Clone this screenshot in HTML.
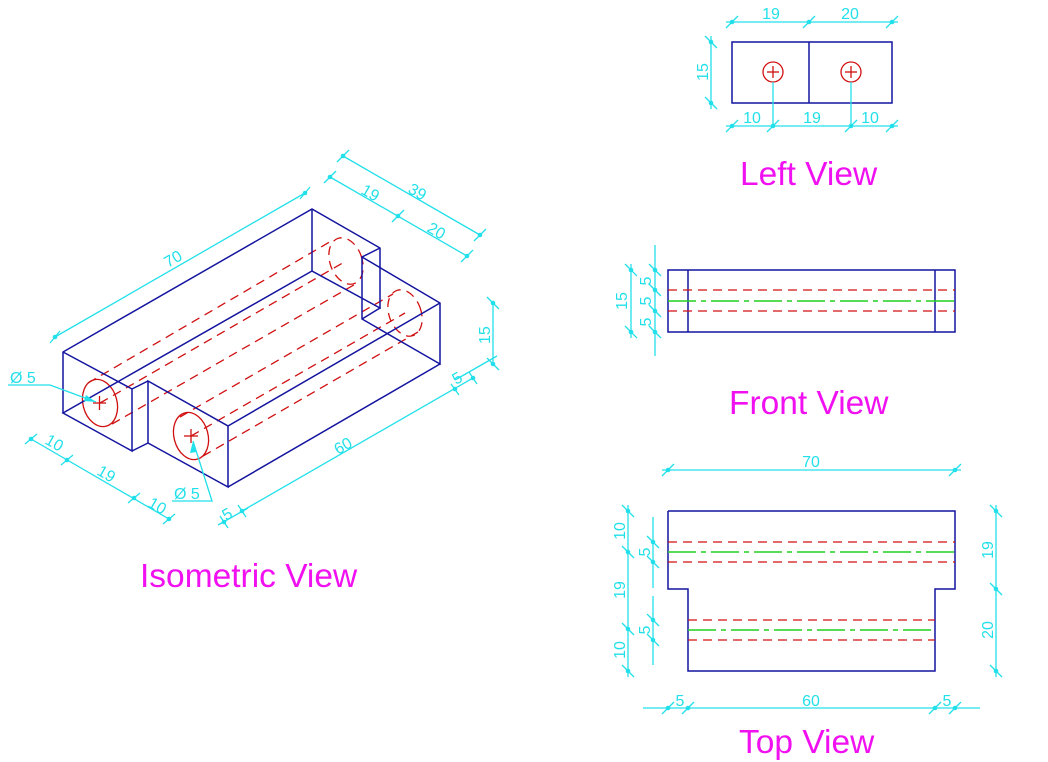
<!DOCTYPE html>
<html><head><meta charset="utf-8"><style>
html,body{margin:0;padding:0;background:#fff;}
svg{display:block;}
.b{stroke:#1414a0;stroke-width:1.5;fill:none;}
.c{stroke:#22e0ea;stroke-width:1.3;fill:none;}
.r{stroke:#d01010;stroke-width:1.3;fill:none;stroke-dasharray:9 6;}
.rs{stroke:#d01010;stroke-width:1.3;fill:none;}
.g{stroke:#20d020;stroke-width:1.4;fill:none;stroke-dasharray:28 5 5 5;}
.d{fill:#22e0ea;}
.t{fill:#22e0ea;font-family:"Liberation Sans",sans-serif;font-size:16px;}
.m{fill:#f010f0;font-family:"Liberation Sans",sans-serif;font-size:33.5px;}
</style></head><body>
<svg width="1048" height="762" viewBox="0 0 1048 762" xmlns="http://www.w3.org/2000/svg">
<!-- ============ ISOMETRIC ============ -->
<g class="r">
<line x1="88" y1="383" x2="333" y2="240"/>
<line x1="112" y1="424" x2="359" y2="282"/>
<line x1="100" y1="403" x2="346" y2="261"/>
<line x1="180" y1="417" x2="393" y2="294"/>
<line x1="203" y1="456" x2="418" y2="332"/>
<line x1="191" y1="436" x2="405" y2="313"/>
<ellipse cx="346" cy="261" rx="16" ry="24" transform="rotate(-20 346 261)"/>
<ellipse cx="405" cy="313" rx="16" ry="24" transform="rotate(-20 405 313)"/>
</g>
<g class="rs">
<ellipse cx="100" cy="403" rx="17" ry="24" transform="rotate(-15 100 403)"/>
<ellipse cx="191" cy="436" rx="17" ry="24" transform="rotate(-15 191 436)"/>
<line x1="93" y1="403" x2="106" y2="403"/><line x1="99.5" y1="396" x2="99.5" y2="410"/>
<line x1="184" y1="436" x2="198" y2="436"/><line x1="191" y1="429" x2="191" y2="443"/>
</g>
<g class="b">
<polyline points="63,413 63,352 312,209 380,248 380,308 312,271 312,209"/>
<polyline points="63,352 132,389 132,451 63,413 312,271"/>
<line x1="132" y1="389" x2="148" y2="381"/>
<line x1="132" y1="451" x2="148" y2="443"/>
<polyline points="148,443 148,381 228,426 228,487 148,443"/>
<line x1="228" y1="426" x2="440" y2="303"/>
<line x1="228" y1="487" x2="440" y2="364"/>
<polyline points="362,257 440,303 440,364 362,319 362,257 380,248"/>
<line x1="362" y1="319" x2="380" y2="308"/>
</g>
<g class="c">
<line x1="55" y1="337" x2="305" y2="193"/>
<line x1="50" y1="343" x2="60" y2="331"/><line x1="300" y1="199" x2="310" y2="187"/>
<line x1="343" y1="156" x2="480" y2="235"/>
<line x1="330" y1="177" x2="467" y2="256"/>
<line x1="493" y1="303" x2="493" y2="364"/>
<line x1="497" y1="356" x2="455" y2="380"/>
<line x1="473" y1="378" x2="242" y2="511"/>
<line x1="218" y1="525" x2="248" y2="508"/>
<line x1="31" y1="439" x2="169" y2="519"/>
<polyline points="8,385 50,385 96,402"/>
<polyline points="172,501 212,501 193,441"/>
</g>
<g class="d">
<circle cx="55" cy="337" r="2.3"/><circle cx="305" cy="193" r="2.3"/>
<circle cx="343" cy="156" r="2.3"/><circle cx="480" cy="235" r="2.3"/>
<circle cx="330" cy="177" r="2.3"/><circle cx="398" cy="216" r="2.3"/><circle cx="467" cy="256" r="2.3"/>
<circle cx="493" cy="303" r="2.3"/><circle cx="493" cy="364" r="2.3"/>
<circle cx="455" cy="389" r="2.3"/><circle cx="473" cy="378" r="2.3"/>
<circle cx="242" cy="511" r="2.3"/><circle cx="224" cy="522" r="2.3"/>
<circle cx="31" cy="439" r="2.3"/><circle cx="67" cy="460" r="2.3"/><circle cx="134" cy="498" r="2.3"/><circle cx="169" cy="519" r="2.3"/>
<polygon points="96,402 86,395 84,401"/>
<polygon points="193,441 190,453 196,452"/>
</g>
<g class="c">
<line x1="337" y1="162" x2="349" y2="150"/><line x1="474" y1="241" x2="486" y2="229"/>
<line x1="324" y1="183" x2="336" y2="171"/><line x1="392" y1="222" x2="404" y2="210"/><line x1="461" y1="262" x2="473" y2="250"/>
<line x1="487" y1="297" x2="499" y2="309"/><line x1="487" y1="358" x2="499" y2="370"/>
<line x1="451" y1="384" x2="459" y2="395"/><line x1="469" y1="372" x2="477" y2="384"/>
<line x1="238" y1="505" x2="246" y2="517"/><line x1="220" y1="516" x2="228" y2="528"/>
<line x1="25" y1="444" x2="37" y2="434"/><line x1="61" y1="465" x2="73" y2="455"/><line x1="128" y1="503" x2="140" y2="493"/><line x1="163" y1="524" x2="175" y2="514"/>
</g>
<g class="t">
<text transform="translate(168,268) rotate(-30)">70</text>
<text transform="translate(360,193) rotate(30)">19</text>
<text transform="translate(407,192) rotate(30)">39</text>
<text transform="translate(426,231) rotate(30)">20</text>
<text transform="translate(490,344) rotate(-90)">15</text>
<text transform="translate(456,385) rotate(-30)">5</text>
<text transform="translate(338,455) rotate(-30)">60</text>
<text transform="translate(226,521) rotate(-30)">5</text>
<text transform="translate(44,443) rotate(30)">10</text>
<text transform="translate(96,474) rotate(30)">19</text>
<text transform="translate(147,506) rotate(30)">10</text>
<text x="10" y="383">Ø 5</text>
<text x="174" y="499">Ø 5</text>
</g>
<text class="m" x="140" y="587">Isometric View</text>

<!-- ============ LEFT VIEW ============ -->
<g class="b"><rect x="732" y="42" width="160" height="61"/><line x1="809" y1="42" x2="809" y2="103"/></g>
<g class="rs"><circle cx="773" cy="72" r="10"/><circle cx="851" cy="72" r="10"/>
<line x1="767" y1="72" x2="779" y2="72"/><line x1="773" y1="66" x2="773" y2="78"/>
<line x1="845" y1="72" x2="857" y2="72"/><line x1="851" y1="66" x2="851" y2="78"/></g>
<g class="c">
<line x1="726" y1="22" x2="898" y2="22"/>
<line x1="711" y1="36" x2="711" y2="109"/>
<line x1="726" y1="126" x2="898" y2="126"/>
<line x1="773" y1="82" x2="773" y2="126"/><line x1="851" y1="82" x2="851" y2="126"/>
<line x1="726" y1="28" x2="738" y2="16"/><line x1="803" y1="28" x2="815" y2="16"/><line x1="886" y1="28" x2="898" y2="16"/>
<line x1="705" y1="36" x2="717" y2="48"/><line x1="705" y1="97" x2="717" y2="109"/>
<line x1="726" y1="132" x2="738" y2="120"/><line x1="767" y1="132" x2="779" y2="120"/><line x1="845" y1="132" x2="857" y2="120"/><line x1="886" y1="132" x2="898" y2="120"/>
</g>
<g class="d">
<circle cx="732" cy="22" r="2.3"/><circle cx="809" cy="22" r="2.3"/><circle cx="892" cy="22" r="2.3"/>
<circle cx="711" cy="42" r="2.3"/><circle cx="711" cy="103" r="2.3"/>
<circle cx="732" cy="126" r="2.3"/><circle cx="773" cy="126" r="2.3"/><circle cx="851" cy="126" r="2.3"/><circle cx="892" cy="126" r="2.3"/>
</g>
<g class="t" text-anchor="middle">
<text x="771" y="19">19</text><text x="850" y="19">20</text>
<text transform="translate(708,72) rotate(-90)">15</text>
<text x="752" y="123">10</text><text x="812" y="123">19</text><text x="870" y="123">10</text>
</g>
<text class="m" x="740" y="185">Left View</text>

<!-- ============ FRONT VIEW ============ -->
<g class="b"><rect x="668" y="270" width="287" height="62"/><line x1="688" y1="270" x2="688" y2="332"/><line x1="935" y1="270" x2="935" y2="332"/></g>
<line class="r" x1="668" y1="290" x2="955" y2="290"/>
<line class="r" x1="668" y1="311" x2="955" y2="311"/>
<line class="g" x1="668" y1="301" x2="955" y2="301"/>
<g class="c">
<line x1="631" y1="264" x2="631" y2="338"/>
<line x1="655" y1="245" x2="655" y2="356"/>
<line x1="625" y1="264" x2="637" y2="276"/><line x1="625" y1="326" x2="637" y2="338"/>
<line x1="649" y1="264" x2="661" y2="276"/><line x1="649" y1="284" x2="661" y2="296"/><line x1="649" y1="305" x2="661" y2="317"/><line x1="649" y1="326" x2="661" y2="338"/>
</g>
<g class="d">
<circle cx="631" cy="270" r="2.3"/><circle cx="631" cy="332" r="2.3"/>
<circle cx="655" cy="270" r="2.3"/><circle cx="655" cy="290" r="2.3"/><circle cx="655" cy="311" r="2.3"/><circle cx="655" cy="332" r="2.3"/>
</g>
<g class="t" text-anchor="middle">
<text transform="translate(627,301) rotate(-90)">15</text>
<text transform="translate(651,281) rotate(-90)">5</text>
<text transform="translate(651,301) rotate(-90)">5</text>
<text transform="translate(651,322) rotate(-90)">5</text>
</g>
<text class="m" x="729" y="414">Front View</text>

<!-- ============ TOP VIEW ============ -->
<polyline class="b" points="668,511 955,511 955,589 935,589 935,671 688,671 688,589 668,589 668,511"/>
<line class="r" x1="668" y1="542" x2="955" y2="542"/>
<line class="r" x1="668" y1="562" x2="955" y2="562"/>
<line class="g" x1="668" y1="552" x2="955" y2="552"/>
<line class="r" x1="688" y1="620" x2="935" y2="620"/>
<line class="r" x1="688" y1="640" x2="935" y2="640"/>
<line class="g" x1="688" y1="630" x2="935" y2="630"/>
<g class="c">
<line x1="662" y1="470" x2="961" y2="470"/>
<line x1="628" y1="505" x2="628" y2="677"/>
<line x1="653" y1="517" x2="653" y2="588"/>
<line x1="653" y1="596" x2="653" y2="665"/>
<line x1="996" y1="505" x2="996" y2="677"/>
<line x1="643" y1="708" x2="980" y2="708"/>
<line x1="662" y1="476" x2="674" y2="464"/><line x1="949" y1="476" x2="961" y2="464"/>
<line x1="622" y1="505" x2="634" y2="517"/><line x1="622" y1="546" x2="634" y2="558"/><line x1="622" y1="623" x2="634" y2="635"/><line x1="622" y1="665" x2="634" y2="677"/>
<line x1="647" y1="536" x2="659" y2="548"/><line x1="647" y1="556" x2="659" y2="568"/><line x1="647" y1="614" x2="659" y2="626"/><line x1="647" y1="634" x2="659" y2="646"/>
<line x1="990" y1="505" x2="1002" y2="517"/><line x1="990" y1="583" x2="1002" y2="595"/><line x1="990" y1="665" x2="1002" y2="677"/>
<line x1="662" y1="714" x2="674" y2="702"/><line x1="682" y1="714" x2="694" y2="702"/><line x1="929" y1="714" x2="941" y2="702"/><line x1="949" y1="714" x2="961" y2="702"/>
</g>
<g class="d">
<circle cx="668" cy="470" r="2.3"/><circle cx="955" cy="470" r="2.3"/>
<circle cx="628" cy="511" r="2.3"/><circle cx="628" cy="552" r="2.3"/><circle cx="628" cy="629" r="2.3"/><circle cx="628" cy="671" r="2.3"/>
<circle cx="653" cy="542" r="2.3"/><circle cx="653" cy="562" r="2.3"/><circle cx="653" cy="620" r="2.3"/><circle cx="653" cy="640" r="2.3"/>
<circle cx="996" cy="511" r="2.3"/><circle cx="996" cy="589" r="2.3"/><circle cx="996" cy="671" r="2.3"/>
<circle cx="668" cy="708" r="2.3"/><circle cx="688" cy="708" r="2.3"/><circle cx="935" cy="708" r="2.3"/><circle cx="955" cy="708" r="2.3"/>
</g>
<g class="t" text-anchor="middle">
<text x="811" y="467">70</text>
<text transform="translate(625,531) rotate(-90)">10</text>
<text transform="translate(625,590) rotate(-90)">19</text>
<text transform="translate(625,650) rotate(-90)">10</text>
<text transform="translate(650,552) rotate(-90)">5</text>
<text transform="translate(650,630) rotate(-90)">5</text>
<text transform="translate(993,550) rotate(-90)">19</text>
<text transform="translate(993,630) rotate(-90)">20</text>
<text x="680" y="706">5</text><text x="811" y="706">60</text><text x="947" y="706">5</text>
</g>
<text class="m" x="739" y="753">Top View</text>
</svg>
</body></html>
